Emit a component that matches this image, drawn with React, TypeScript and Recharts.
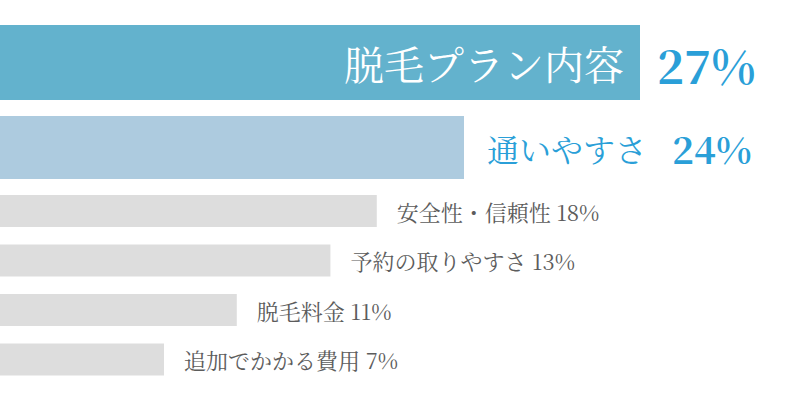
import React from "react";
import { BarChart, Bar, XAxis, YAxis, LabelList, Cell } from "recharts";

const categories = [
  "脱毛プラン内容",
  "通いやすさ",
  "安全性・信頼性",
  "予約の取りやすさ",
  "脱毛料金",
  "追加でかかる費用",
];
const shares = [27, 24, 18, 13, 11, 7];
// visual bar lengths (share of the chart width) as drawn in the picture
const barLengths = [80, 58, 47.1, 41.3, 29.6, 20.5];

const rows = categories.map((name, i) => ({ name, share: shares[i], length: barLengths[i] }));

const FONT = "'Noto Serif CJK JP', 'Liberation Serif', 'DejaVu Serif', serif";
const BLUE = "#2a9fd8";
const GRAY_TEXT = "#5c5c5c";
const barColors = ["#63b2cd", "#adcbdf", "#dddddd", "#dddddd", "#dddddd", "#dddddd"];

const W = 800;

const TopLabel = (props: any) => {
  const { x, y, width, height, index } = props;
  const d = rows[index];
  const cy = y + height / 2;
  return (
    <g>
      <text x={x + width - 16} y={cy} textAnchor="end" dominantBaseline="central" fill="#ffffff" fontSize={40} fontFamily={FONT}>
        {d.name}
      </text>
      <text x={x + width + 17} y={cy + 1} textAnchor="start" dominantBaseline="central" fill={BLUE} fontSize={46} fontWeight={700} fontFamily={FONT}>
        {d.share}%
      </text>
    </g>
  );
};

const SecondLabel = (props: any) => {
  const { x, y, width, height, index } = props;
  const d = rows[1 + index];
  const cy = y + height / 2;
  return (
    <text x={x + width + 23} y={cy} dominantBaseline="central" fill={BLUE} fontFamily={FONT}>
      <tspan fontSize={32}>{d.name}</tspan>
      <tspan fontSize={37} fontWeight={700} dx={25}>{d.share}%</tspan>
    </text>
  );
};

const RestLabel = (props: any) => {
  const { x, y, width, height, index } = props;
  const d = rows[2 + index];
  const cy = y + height / 2;
  return (
    <text x={x + width + 20} y={cy} dominantBaseline="central" fill={GRAY_TEXT} fontSize={22} fontFamily={FONT}>
      {d.name} {d.share}%
    </text>
  );
};

type Part = { data: typeof rows; offset: number; top: number; height: number; barSize: number; label: any };

const parts: Part[] = [
  { data: rows.slice(0, 1), offset: 0, top: 0, height: 125, barSize: 75, label: TopLabel },
  { data: rows.slice(1, 2), offset: 1, top: 100, height: 95, barSize: 63, label: SecondLabel },
  { data: rows.slice(2), offset: 2, top: 186, height: 198, barSize: 32, label: RestLabel },
];

export default function App() {
  return (
    <div style={{ position: "absolute", left: 0, top: 0, width: W, height: 398, background: "#ffffff", overflow: "hidden" }}>
      {parts.map((p, pi) => (
        <div key={pi} style={{ position: "absolute", left: 0, top: p.top, width: W, height: p.height }}>
          <BarChart width={W} height={p.height} data={p.data} layout="vertical" margin={{ top: 0, right: 0, bottom: 0, left: 0 }} barCategoryGap={0}>
            <XAxis type="number" domain={[0, 100]} hide />
            <YAxis type="category" dataKey="name" hide />
            <Bar dataKey="length" barSize={p.barSize} isAnimationActive={false}>
              {p.data.map((_, i) => (
                <Cell key={i} fill={barColors[p.offset + i]} />
              ))}
              <LabelList dataKey="share" content={p.label} />
            </Bar>
          </BarChart>
        </div>
      ))}
    </div>
  );
}
